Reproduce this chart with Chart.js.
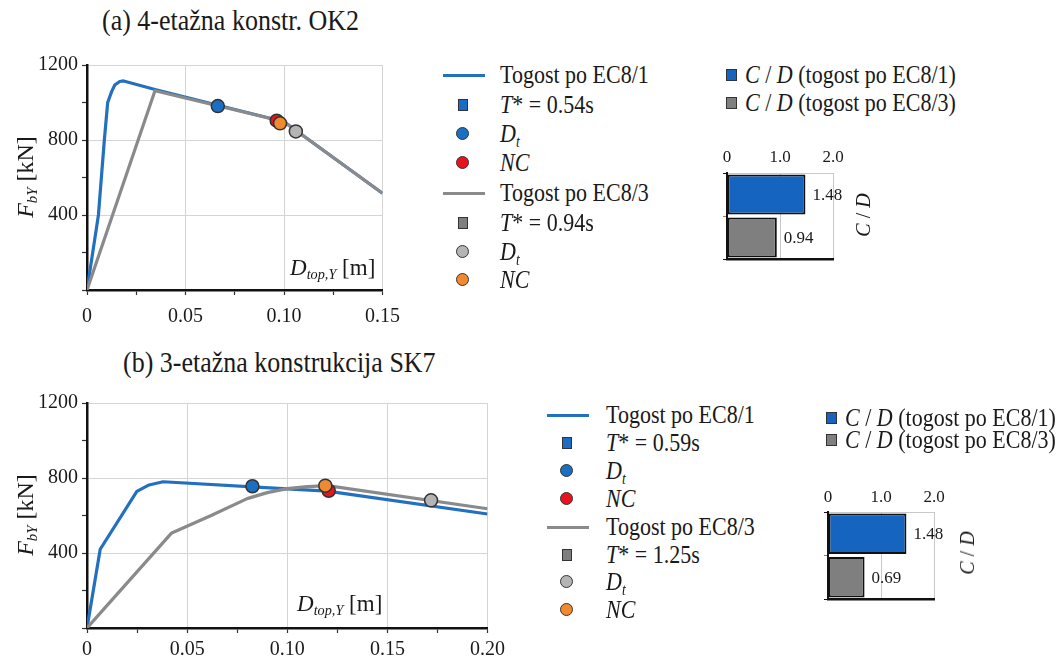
<!DOCTYPE html>
<html><head><meta charset="utf-8">
<script src="https://cdn.jsdelivr.net/npm/chart.js@4.4.1/dist/chart.umd.min.js"></script>
<style>
html,body{margin:0;padding:0;background:#fff;}
#root{position:relative;width:1062px;height:660px;overflow:hidden;font-family:'Liberation Serif','Times New Roman',serif;color:#1a1a1a;}
canvas{position:absolute;}
.t{position:absolute;white-space:nowrap;line-height:1;}
.row{position:absolute;white-space:nowrap;font-size:22px;height:30px;line-height:30px;transform:scaleY(1.15);transform-origin:left center;}
.ln{position:absolute;height:3px;width:42px;}
.sq{position:absolute;width:8px;height:10px;border:1.5px solid #333;}
.ci{position:absolute;width:11px;height:11px;border:1.5px solid #333;border-radius:50%;}
sub{font-size:0.62em;vertical-align:-0.3em;line-height:0;}
.rot{position:absolute;white-space:nowrap;transform:translate(-50%,-50%) rotate(-90deg);line-height:1;}
</style>
</head>
<body>
<div id="root">
  <div class="t" style="left:102px;top:8px;font-size:26px;transform:scaleY(1.1);">(a) 4-etažna konstr. OK2</div>
  <div class="t" style="left:123px;top:350px;font-size:26px;transform:scaleY(1.1);">(b) 3-etažna konstrukcija SK7</div>

  <canvas id="lineA" width="410" height="295" style="left:0;top:45px;"></canvas>
  <canvas id="lineB" width="510" height="277" style="left:0;top:383px;"></canvas>
  <canvas id="barA" width="180" height="130" style="left:700px;top:140px;"></canvas>
  <canvas id="barB" width="180" height="130" style="left:801px;top:479px;"></canvas>

  <div class="rot" style="left:25px;top:177px;font-size:24px;"><i>F</i><sub><i>bY</i></sub> [kN]</div>
  <div class="rot" style="left:25px;top:515px;font-size:24px;"><i>F</i><sub><i>bY</i></sub> [kN]</div>
  <div class="t" style="left:290px;top:256px;font-size:23px;"><i>D</i><sub><i>top,Y</i></sub> [m]</div>
  <div class="t" style="left:297px;top:592px;font-size:23px;"><i>D</i><sub><i>top,Y</i></sub> [m]</div>
  <div class="rot" style="left:863px;top:215px;font-size:20px;"><i>C</i> / <i>D</i></div>
  <div class="rot" style="left:967px;top:553px;font-size:20px;"><i>C</i> / <i>D</i></div>

  <!-- legend (a) -->
  <div class="ln" style="left:443px;top:73.5px;background:#2270bf;"></div>
  <div class="row" style="left:500px;top:60px;">Togost po EC8/1</div>
  <div class="sq" style="left:457.5px;top:98.5px;background:#1a6cc4;"></div>
  <div class="row" style="left:500px;top:90px;"><i>T</i>* = 0.54s</div>
  <div class="ci" style="left:456px;top:127px;background:#1a6fc2;"></div>
  <div class="row" style="left:500px;top:119px;"><i>D<sub>t</sub></i></div>
  <div class="ci" style="left:456px;top:156px;background:#e8141c;"></div>
  <div class="row" style="left:500px;top:148px;"><i>NC</i></div>
  <div class="ln" style="left:443px;top:191.5px;background:#8a8a8a;"></div>
  <div class="row" style="left:500px;top:178px;">Togost po EC8/3</div>
  <div class="sq" style="left:457.5px;top:216.5px;background:#7f7f7f;"></div>
  <div class="row" style="left:500px;top:208px;"><i>T</i>* = 0.94s</div>
  <div class="ci" style="left:456px;top:245px;background:#b4b4b4;"></div>
  <div class="row" style="left:500px;top:237px;"><i>D<sub>t</sub></i></div>
  <div class="ci" style="left:456px;top:273px;background:#f08a30;"></div>
  <div class="row" style="left:500px;top:265px;"><i>NC</i></div>

  <!-- legend (b) -->
  <div class="ln" style="left:547px;top:413.5px;background:#2270bf;"></div>
  <div class="row" style="left:606px;top:400px;">Togost po EC8/1</div>
  <div class="sq" style="left:561.5px;top:436.5px;background:#1a6cc4;"></div>
  <div class="row" style="left:606px;top:428px;"><i>T</i>* = 0.59s</div>
  <div class="ci" style="left:560px;top:464px;background:#1a6fc2;"></div>
  <div class="row" style="left:606px;top:456px;"><i>D<sub>t</sub></i></div>
  <div class="ci" style="left:560px;top:492px;background:#e8141c;"></div>
  <div class="row" style="left:606px;top:484px;"><i>NC</i></div>
  <div class="ln" style="left:547px;top:525.5px;background:#8a8a8a;"></div>
  <div class="row" style="left:606px;top:512px;">Togost po EC8/3</div>
  <div class="sq" style="left:561.5px;top:548.5px;background:#7f7f7f;"></div>
  <div class="row" style="left:606px;top:540px;"><i>T</i>* = 1.25s</div>
  <div class="ci" style="left:560px;top:575px;background:#b4b4b4;"></div>
  <div class="row" style="left:606px;top:567px;"><i>D<sub>t</sub></i></div>
  <div class="ci" style="left:560px;top:603px;background:#f08a30;"></div>
  <div class="row" style="left:606px;top:595px;"><i>NC</i></div>

  <!-- bar legends -->
  <div class="sq" style="left:726px;top:68.5px;width:9px;height:10px;background:#1565c0;"></div>
  <div class="row" style="left:745px;top:60px;"><i>C</i> / <i>D</i> (togost po EC8/1)</div>
  <div class="sq" style="left:726px;top:96.5px;width:9px;height:10px;background:#7f7f7f;"></div>
  <div class="row" style="left:745px;top:88px;"><i>C</i> / <i>D</i> (togost po EC8/3)</div>

  <div class="sq" style="left:826px;top:411.5px;width:9px;height:10px;background:#1565c0;"></div>
  <div class="row" style="left:845px;top:403px;"><i>C</i> / <i>D</i> (togost po EC8/1)</div>
  <div class="sq" style="left:826px;top:433.5px;width:9px;height:10px;background:#7f7f7f;"></div>
  <div class="row" style="left:845px;top:425px;"><i>C</i> / <i>D</i> (togost po EC8/3)</div>
</div>

<script>
// ---------- Panel (a): 4-etažna konstr. OK2 ----------
const aX_EC81 = [0, 0.0058, 0.0088, 0.0105, 0.0125, 0.0141, 0.0166, 0.0186, 0.035, 0.10, 0.15];
const aY_EC81 = [0, 400, 800, 1000, 1058, 1093, 1112, 1115, 1068, 897, 516];
const aX_EC83 = [0, 0.0345, 0.10, 0.15];
const aY_EC83 = [0, 1063, 897, 516];
const aDt_EC81 = [0.0664, 981];
const aNC_EC81 = [0.0963, 903];
const aDt_EC83 = [0.106, 846];
const aNC_EC83 = [0.098, 889];
const aCD = [1.48, 0.94];

// ---------- Panel (b): 3-etažna konstrukcija SK7 ----------
const bX_EC81 = [0, 0.0066, 0.0249, 0.031, 0.038, 0.10, 0.12, 0.20];
const bY_EC81 = [0, 420, 729, 763, 780, 742, 730, 608];
const bX_EC83 = [0, 0.0423, 0.062, 0.08, 0.09, 0.10, 0.11, 0.12, 0.20];
const bY_EC83 = [0, 507, 600, 690, 722, 743, 754, 759, 636];
const bDt_EC81 = [0.0826, 756];
const bNC_EC81 = [0.1207, 732];
const bDt_EC83 = [0.1718, 681];
const bNC_EC83 = [0.119, 759];
const bCD = [1.48, 0.69];

const barCategories = ['togost po EC8/1', 'togost po EC8/3'];
const yMax = 1200, yMajorStep = 400, yMinorStep = 200;
const xMinorStep = 0.025;

const FONT = "'Liberation Serif', 'Times New Roman', serif";
Chart.defaults.font.family = FONT;
Chart.defaults.color = '#1a1a1a';

const BLUE_LINE = '#2270bf', GRAY_LINE = '#8a8a8a';
const BLUE_PT = '#1a6fc2', RED_PT = '#e8141c', GRAY_PT = '#b4b4b4', ORANGE_PT = '#f08a30';
const BLUE_BAR = '#1565c0', GRAY_BAR = '#7f7f7f';

function pts(xs, ys) { return xs.map((x, i) => ({ x: x, y: ys[i] })); }
function curve(xs, ys, color, order) {
  return { data: pts(xs, ys), showLine: true, borderColor: color, borderWidth: 3.2, pointRadius: 0,
           tension: 0, fill: false, borderJoinStyle: 'round', order: order };
}
function marker(p, color, order) {
  return { data: [{ x: p[0], y: p[1] }], showLine: false, pointRadius: 6.5, pointBackgroundColor: color,
           pointBorderColor: '#333', pointBorderWidth: 1.5, order: order };
}

function lineChart(id, xMax, xAxisH, xPad, datasets) {
  return new Chart(document.getElementById(id), {
    type: 'scatter',
    data: { datasets: datasets },
    options: {
      responsive: false, animation: false, events: [],
      layout: { padding: { top: 20, right: 22, left: 0, bottom: 0 } },
      plugins: { legend: { display: false }, tooltip: { enabled: false } },
      scales: {
        x: {
          type: 'linear', min: 0, max: xMax,
          afterFit: s => { s.height = xAxisH; },
          ticks: {
            stepSize: xMinorStep, autoSkip: false, maxRotation: 0, padding: xPad,
            font: { size: 20 },
            callback: v => { const k = Math.round(v / xMinorStep); if (k % 2) return ''; return k === 0 ? '0' : (k * xMinorStep).toFixed(2); }
          },
          grid: {
            color: c => { if (!c.tick) return 'rgba(0,0,0,0)'; const k = Math.round(c.tick.value / xMinorStep); return (k % 2 === 0 && k !== 0) ? '#d4d4d4' : 'rgba(0,0,0,0)'; },
            tickColor: '#333', tickLength: 5, tickWidth: 1.2, lineWidth: 1
          },
          border: { color: '#111', width: 2.5 }
        },
        y: {
          min: 0, max: yMax,
          afterFit: s => { s.width = 87; },
          ticks: {
            stepSize: yMinorStep, autoSkip: false, padding: 4, font: { size: 20 },
            callback: v => (v % yMajorStep === 0 && v !== 0) ? String(v) : ''
          },
          grid: {
            color: c => (c.tick && c.tick.value % yMajorStep === 0 && c.tick.value !== 0) ? '#d4d4d4' : 'rgba(0,0,0,0)',
            tickColor: '#333', tickLength: 5, tickWidth: 1.2, lineWidth: 1
          },
          border: { color: '#111', width: 2.5 }
        }
      }
    }
  });
}

lineChart('lineA', 0.15, 50, 10, [
  marker(aDt_EC83, GRAY_PT, 1),
  marker(aNC_EC83, ORANGE_PT, 2),
  marker(aNC_EC81, RED_PT, 3),
  marker(aDt_EC81, BLUE_PT, 4),
  curve(aX_EC83, aY_EC83, GRAY_LINE, 10),
  curve(aX_EC81, aY_EC81, BLUE_LINE, 11)
]);

lineChart('lineB', 0.20, 32, 5, [
  marker(bDt_EC83, GRAY_PT, 1),
  marker(bNC_EC83, ORANGE_PT, 2),
  marker(bNC_EC81, RED_PT, 3),
  marker(bDt_EC81, BLUE_PT, 4),
  curve(bX_EC83, bY_EC83, GRAY_LINE, 10),
  curve(bX_EC81, bY_EC81, BLUE_LINE, 11)
]);

const valueLabels = {
  id: 'valueLabels',
  afterDatasetsDraw(chart) {
    const c = chart.ctx, meta = chart.getDatasetMeta(0), vals = chart.data.datasets[0].data;
    c.save();
    c.font = "17px " + FONT; c.fillStyle = '#1a1a1a'; c.textAlign = 'left'; c.textBaseline = 'middle';
    meta.data.forEach((el, i) => { c.fillText(vals[i].toFixed(2), el.x + 7, el.y + 1); });
    c.restore();
  }
};

function barChart(id, values, labelPad, bottomPad) {
  return new Chart(document.getElementById(id), {
    type: 'bar',
    data: { labels: barCategories, datasets: [{
      data: values, backgroundColor: [BLUE_BAR, GRAY_BAR], borderColor: '#111', borderWidth: 2,
      borderSkipped: false, barPercentage: 1, categoryPercentage: 0.93 }] },
    options: {
      indexAxis: 'y', responsive: false, animation: false, events: [],
      layout: { padding: { top: 0, right: 47, bottom: bottomPad, left: 0 } },
      plugins: { legend: { display: false }, tooltip: { enabled: false } },
      scales: {
        x: {
          position: 'top', min: 0, max: 2,
          afterFit: s => { s.height = 33; },
          ticks: { stepSize: 1, padding: labelPad, font: { size: 17 }, callback: v => v === 0 ? '0' : v.toFixed(1) },
          grid: { color: '#c8c8c8', drawTicks: false },
          border: { color: '#c8c8c8', width: 1 }
        },
        x2: {
          position: 'bottom', min: 0, max: 2, display: true,
          afterFit: s => { s.height = 0; },
          ticks: { display: false },
          grid: { display: false, drawTicks: false },
          border: { color: '#111', width: 2.5 }
        },
        y: {
          afterFit: s => { s.width = 27; },
          ticks: { display: false },
          grid: { color: 'rgba(0,0,0,0)', tickColor: c => c.index === 1 ? '#c07040' : '#111', tickLength: 4 },
          border: { color: '#111', width: 2 }
        }
      }
    },
    plugins: [valueLabels]
  });
}

barChart('barA', aCD, 5, 11);
barChart('barB', bCD, 4, 10);
</script>
</body></html>
